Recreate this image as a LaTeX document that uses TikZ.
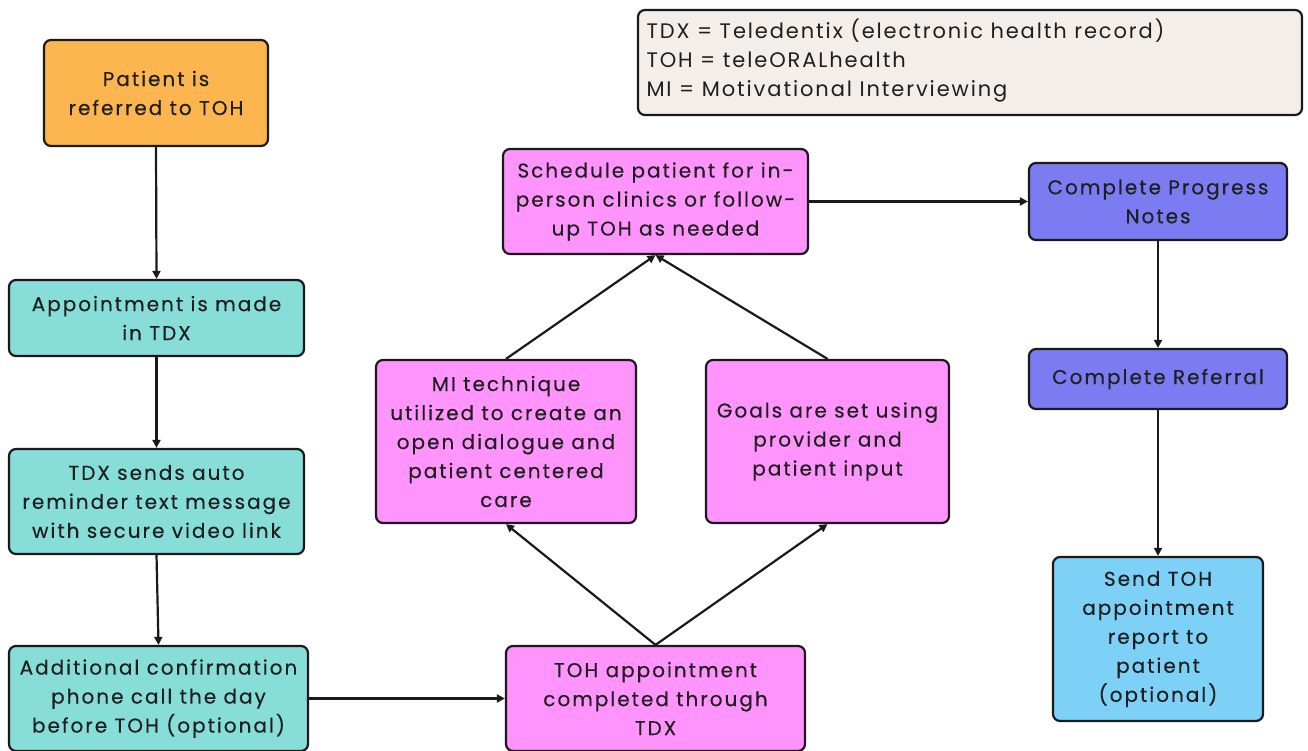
\documentclass[tikz,border=0pt]{standalone}
\usepackage{fontspec}
\setmainfont{Poppins}[LetterSpace=10,FakeBold=0.3]
\newfontfamily\legfont{Poppins}[LetterSpace=9]
\usetikzlibrary{arrows.meta}
\definecolor{corange}{HTML}{FDB54F}
\definecolor{cteal}{HTML}{87DDD8}
\definecolor{cpink}{HTML}{FF94FC}
\definecolor{cperi}{HTML}{7B7BF2}
\definecolor{cblue}{HTML}{7DD0F6}
\definecolor{clegend}{HTML}{F3EEEA}
\definecolor{cline}{HTML}{1A1A1A}
\tikzset{
  box/.style={draw=cline, line width=2.2pt, rounded corners=7pt, align=center,
    font=\fontsize{20}{29}\selectfont, text=black!88, inner sep=0pt},
  conn/.style={draw=cline, line width=2.2pt, -{Triangle[length=8pt,width=8pt]}},
}
\begin{document}
\begin{tikzpicture}[x=1pt,y=-1pt]
\useasboundingbox (0,0) rectangle (1308,751);
% legend
\node[draw=cline, line width=2.2pt, rounded corners=7pt, fill=clegend, minimum width=664, minimum height=105, inner sep=0pt] (legend) at (970,62.5) {};
\node[anchor=west, align=left, font=\legfont\fontsize{21}{29}\selectfont, text=black!88] (legtext) at (643,61)
 {TDX = Teledentix (electronic health record)\\TOH = teleORALhealth\\MI = Motivational Interviewing};
% left column
\node[box, fill=corange, minimum width=224, minimum height=106] (pat) at (156,93) {Patient is\\referred to TOH};
\node[box, fill=cteal, minimum width=295, minimum height=76] (appt) at (156.5,318) {Appointment is made\\in TDX};
\node[box, fill=cteal, minimum width=295, minimum height=105] (tdx) at (156.5,501.5) {TDX sends auto\\reminder text message\\with secure video link};
\node[box, fill=cteal, minimum width=299, minimum height=105] (add) at (158.5,698.5) {Additional confirmation\\phone call the day\\before TOH (optional)};
% middle
\node[box, fill=cpink, minimum width=299, minimum height=105] (toh) at (655.5,698.5) {TOH appointment\\completed through\\TDX};
\node[box, fill=cpink, minimum width=260, minimum height=163] (mi) at (506,441.5) {MI technique\\utilized to create an\\open dialogue and\\patient centered\\care};
\node[box, fill=cpink, minimum width=243, minimum height=163] (goals) at (827.5,441.5) {Goals are set using\\provider and\\patient input};
\node[box, fill=cpink, minimum width=305, minimum height=105] (sched) at (655.5,201.5) {Schedule patient for in-\\person clinics or follow-\\up TOH as needed};
% right column
\node[box, fill=cperi, minimum width=258, minimum height=77] (prog) at (1158,201.5) {Complete Progress\\Notes};
\node[box, fill=cperi, minimum width=258, minimum height=60] (ref) at (1158,379) {Complete Referral};
\node[box, fill=cblue, minimum width=210, minimum height=164] (send) at (1158,639) {Send TOH\\appointment\\report to\\patient\\(optional)};
% connectors
\draw[conn] (pat.south) -- (appt.north);
\draw[conn] (appt.south) -- (tdx.north);
\draw[conn] (tdx.south) -- (add.north);
\draw[conn] (add.east) -- (toh.west);
\draw[conn] (toh.north) -- (mi.south);
\draw[conn] (toh.north) -- (goals.south);
\draw[conn] (mi.north) -- (sched.south);
\draw[conn] (goals.north) -- (sched.south);
\draw[conn] (sched.east) -- (prog.west);
\draw[conn] (prog.south) -- (ref.north);
\draw[conn] (ref.south) -- (send.north);
\end{tikzpicture}
\end{document}
